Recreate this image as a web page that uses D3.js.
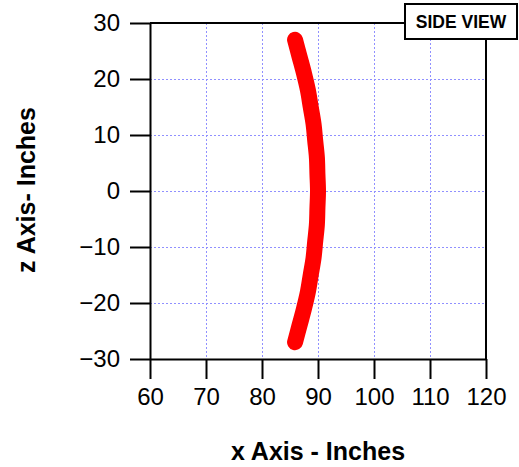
<!DOCTYPE html>
<html>
<head>
<meta charset="utf-8">
<script src="https://cdn.jsdelivr.net/npm/d3@7"></script>
<style>
  html, body { margin: 0; padding: 0; background: #fff; }
  svg { display: block; font-family: "Liberation Sans", Arial, sans-serif; }
</style>
</head>
<body>
<svg id="chart" width="519" height="467"></svg>
<script>
// values: x (inches) at each z (inches)
const zValues = [27, 24, 21, 18, 15, 12, 9, 6, 3, 0, -3, -6, -9, -12, -15, -18, -21, -24, -27];
const xValues = [85.9, 86.7, 87.5, 88.2, 88.7, 89.2, 89.5, 89.8, 89.9, 90, 89.9, 89.8, 89.5, 89.2, 88.7, 88.2, 87.5, 86.7, 85.9];

const xTicks = [60, 70, 80, 90, 100, 110, 120];
const zTicks = [30, 20, 10, 0, -10, -20, -30];

const points = zValues.map((z, i) => ({ x: xValues[i], z }));

const plotLeft = 150, plotRight = 486, plotTop = 23, plotBottom = 359;

const x = d3.scaleLinear().domain([60, 120]).range([plotLeft, plotRight]);
const y = d3.scaleLinear().domain([-30, 30]).range([plotBottom, plotTop]);

const svg = d3.select("#chart");

// grid
const grid = svg.append("g")
  .attr("stroke", "#9090ff")
  .attr("stroke-width", 1)
  .attr("stroke-dasharray", "2,2");

grid.selectAll("line.gx")
  .data(xTicks.slice(1, -1))
  .join("line")
  .attr("class", "gx")
  .attr("x1", (d) => x(d) + 0.5).attr("x2", (d) => x(d) + 0.5)
  .attr("y1", plotTop).attr("y2", plotBottom);

grid.selectAll("line.gy")
  .data(zTicks.slice(1, -1))
  .join("line")
  .attr("class", "gy")
  .attr("y1", (d) => y(d) + 0.5).attr("y2", (d) => y(d) + 0.5)
  .attr("x1", plotLeft).attr("x2", plotRight);

// axes
const xAxis = d3.axisBottom(x).tickValues(xTicks).tickSize(20).tickSizeOuter(0).tickPadding(9);
const yAxis = d3.axisLeft(y).tickValues(zTicks).tickSize(20).tickSizeOuter(0).tickPadding(10);

const gx = svg.append("g").attr("transform", `translate(0,${plotBottom})`).call(xAxis);
const gy = svg.append("g").attr("transform", `translate(${plotLeft},0)`).call(yAxis);

[gx, gy].forEach((g) => {
  g.selectAll("path.domain").attr("stroke", "#000").attr("stroke-width", 2);
  g.selectAll(".tick line").attr("stroke", "#000").attr("stroke-width", 2);
  g.selectAll(".tick text")
    .attr("fill", "#000")
    .style("font-size", "24px")
    .style("font-family", "'Liberation Sans', Arial, sans-serif");
});

// frame top and right
svg.append("path")
  .attr("d", `M${plotLeft},${plotTop}H${plotRight}V${plotBottom}`)
  .attr("fill", "none")
  .attr("stroke", "#000")
  .attr("stroke-width", 2);

// curve
const line = d3.line()
  .x((d) => x(d.x))
  .y((d) => y(d.z))
  .curve(d3.curveCatmullRom);

svg.append("path")
  .datum(points)
  .attr("d", line)
  .attr("fill", "none")
  .attr("stroke", "#ff0000")
  .attr("stroke-width", 16)
  .attr("stroke-linecap", "round")
  .attr("stroke-linejoin", "round");

// axis titles
svg.append("text")
  .attr("x", 318)
  .attr("y", 460)
  .attr("text-anchor", "middle")
  .style("font-size", "25px")
  .style("font-weight", "bold")
  .text("x Axis - Inches");

svg.append("text")
  .attr("transform", "translate(35,190) rotate(-90)")
  .attr("text-anchor", "middle")
  .style("font-size", "25px")
  .style("font-weight", "bold")
  .text("z Axis- Inches");

// side view label
svg.append("rect")
  .attr("x", 405).attr("y", 4)
  .attr("width", 112).attr("height", 35)
  .attr("fill", "#fff")
  .attr("stroke", "#000")
  .attr("stroke-width", 2);

svg.append("text")
  .attr("x", 461)
  .attr("y", 28)
  .attr("text-anchor", "middle")
  .style("font-size", "17.5px")
  .style("font-weight", "bold")
  .text("SIDE VIEW");
</script>
</body>
</html>
